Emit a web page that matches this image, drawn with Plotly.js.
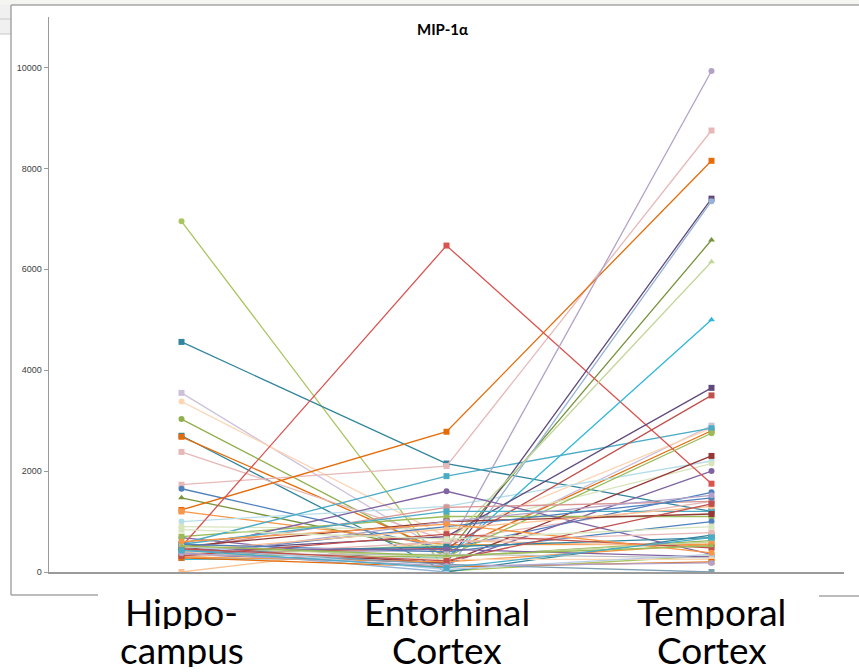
<!DOCTYPE html>
<html>
<head>
<meta charset="utf-8">
<script src="https://cdn.plot.ly/plotly-3.0.1.min.js"></script>
<style>html,body{margin:0;padding:0;background:#fff;}#chart{width:859px;height:672px;}</style>
</head>
<body>
<div id="chart"></div>
<script>
// ---- data ----
const categories = ["Hippocampus", "Entorhinal Cortex", "Temporal Cortex"];
const categoryLabelLines = [["Hippo-", "campus"], ["Entorhinal", "Cortex"], ["Temporal", "Cortex"]];
const chartTitle = "MIP-1α";
const yTickValues = [0, 2000, 4000, 6000, 8000, 10000];

// one value per sample (series), per region
const hippocampus = [6950, 4560, 3550, 3380, 3030, 2700, 2680, 2380, 1730, 1650,
                     1470, 1230, 1200, 1000, 900, 680, 700, 560, 500, 0,
                     400, 350, 450, 300, 250, 420, 380, 350, 480, 420,
                     450, 550, 500, 350, 300, 420, 550, 300, 380, 500,
                     300, 450, 350, 400, 280, 450, 520, 320, 600, 460,
                     520, 370, 430, 840];
const entorhinal  = [20, 2150, 360, 700, 300, 0, 380, 630, 2100, 460,
                     370, 2780, 540, 1300, 850, 150, 1100, 1900, 6470, 620,
                     420, 180, 0, 540, 280, 700, 470, 300, 180, 1600,
                     1280, 1200, 1000, 900, 1000, 850, 400, 600, 500, 300,
                     200, 450, 350, 250, 100, 150, 50, 750, 950, 220,
                     320, 120, 80, 650];
const temporal    = [320, 1200, 2900, 2850, 620, 730, 2800, 1400, 8750, 1580,
                     6580, 8150, 550, 2200, 2150, 2000, 1100, 2850, 1750, 500,
                     9930, 7400, 7350, 6150, 5000, 3650, 3500, 2750, 2300, 350,
                     1400, 1200, 1150, 1470, 1520, 1300, 1000, 780, 680, 600,
                     550, 300, 280, 250, 200, 0, 350, 480, 380, 1350,
                     520, 180, 680, 900];

// ---- styles ----
const seriesColors = ["#A9C55F", "#31859C", "#CCC1DA", "#FCD5B5", "#8FB04D", "#31859C", "#E46C0A", "#E6B9B8", "#E6B9B8", "#4F81BD",
                      "#77933C", "#E46C0A", "#F79646", "#B7DEE8", "#D7E4BD", "#8064A2", "#9BBB59", "#4BACC6", "#D9534F", "#FAC090",
                      "#B3A2C7", "#604A7B", "#95B3D7", "#C3D69B", "#31B6D8", "#604A7B", "#C0504D", "#9BBB59", "#953735", "#8064A2",
                      "#D99694", "#4BACC6", "#953735", "#4F81BD", "#B3A2C7", "#FAC090", "#4F81BD", "#E6B9B8", "#31859C", "#C3D69B",
                      "#F79646", "#8064A2", "#BFBFBF", "#FCD5B5", "#E46C0A", "#7F9FB5", "#B9CDE5", "#C0504D", "#F79646", "#C0504D",
                      "#9BBB59", "#B3A2C7", "#4BACC6", "#D7E4BD"];
const seriesSymbols = ["circle", "square", "square", "circle", "circle", "square", "square", "square", "square", "circle",
                       "triangle-up", "square", "square", "circle", "circle", "circle", "square", "square", "square", "square",
                       "circle", "square", "circle", "triangle-up", "triangle-up", "square", "square", "circle", "square", "circle",
                       "square", "square", "square", "circle", "circle", "circle", "circle", "square", "square", "circle",
                       "square", "circle", "square", "circle", "square", "square", "circle", "square", "circle", "square",
                       "triangle-up", "circle", "square", "square"];

// ---- geometry helpers (pixel -> paper) ----
const L = 49, R = 844, T = 17, B = 572;
const px = v => (v - L) / (R - L);
const py = v => (B - v) / (B - T);

const traces = hippocampus.map((h, i) => ({
  type: "scatter",
  mode: "lines+markers",
  x: categories,
  y: [h, entorhinal[i], temporal[i]],
  line: {color: seriesColors[i], width: 1.3},
  marker: {color: seriesColors[i], symbol: seriesSymbols[i], size: 6, line: {width: 0}},
  showlegend: false,
  hoverinfo: "skip"
}));

const annotations = [];
annotations.push({
  text: "<b>" + chartTitle + "</b>", xref: "paper", yref: "paper",
  x: px(442), y: py(29), xanchor: "center", yanchor: "middle", showarrow: false,
  font: {family: "Lato, 'Liberation Sans', sans-serif", size: 15, color: "#000"}
});
categoryLabelLines.forEach((lines, i) => {
  lines.forEach((t, j) => {
    annotations.push({
      text: t, xref: "x", yref: "paper", x: categories[i], y: py(j === 0 ? 611 : 649),
      xanchor: "center", yanchor: "middle", showarrow: false, height: 36,
      font: {family: "Lato, 'Open Sans', sans-serif", size: 37, color: "#000"}
    });
  });
});

const borderColor = "#A6A6A6";
const shapes = [
  // top light strip
  {type: "rect", xref: "paper", yref: "paper", x0: px(0), x1: px(859), y0: py(0), y1: py(5), fillcolor: "#F4F4F0", line: {width: 0}, layer: "below"},
  // left header strip
  {type: "rect", xref: "paper", yref: "paper", x0: px(0), x1: px(11), y0: py(5), y1: py(34), fillcolor: "#F0F0F0", line: {width: 0}, layer: "below"},
  {type: "line", xref: "paper", yref: "paper", x0: px(0), x1: px(11), y0: py(19), y1: py(19), line: {color: "#C8C8C8", width: 1}},
  {type: "line", xref: "paper", yref: "paper", x0: px(0), x1: px(11), y0: py(34), y1: py(34), line: {color: "#C8C8C8", width: 1}},
  // chart area border
  {type: "line", xref: "paper", yref: "paper", x0: px(11), x1: px(859), y0: py(5), y1: py(5), line: {color: borderColor, width: 1.5}},
  {type: "line", xref: "paper", yref: "paper", x0: px(11), x1: px(11), y0: py(5), y1: py(595), line: {color: borderColor, width: 1.5}},
  {type: "line", xref: "paper", yref: "paper", x0: px(11), x1: px(98), y0: py(595), y1: py(595), line: {color: borderColor, width: 1.5}},
  {type: "line", xref: "paper", yref: "paper", x0: px(819), x1: px(859), y0: py(596), y1: py(596), line: {color: borderColor, width: 1.5}}
];

const layout = {
  width: 859, height: 672,
  margin: {l: L, r: 859 - R, t: T, b: 672 - B, pad: 0},
  paper_bgcolor: "#FFFFFF", plot_bgcolor: "#FFFFFF",
  showlegend: false,
  xaxis: {
    type: "category", range: [-0.5, 2.5], showgrid: false, zeroline: false,
    showline: true, linecolor: "#9A9A9A", linewidth: 1.5,
    showticklabels: false, ticks: ""
  },
  yaxis: {
    range: [0, 11000], showgrid: false, zeroline: false,
    showline: true, linecolor: "#9A9A9A", linewidth: 1.5,
    ticks: "outside", ticklen: 4, tickcolor: "#9A9A9A",
    tickvals: yTickValues, ticktext: yTickValues.map(String),
    tickfont: {family: "'Liberation Sans', Arial, sans-serif", size: 9, color: "#404040"}
  },
  annotations: annotations,
  shapes: shapes
};

Plotly.newPlot("chart", traces, layout, {displayModeBar: false, staticPlot: true});
</script>
</body>
</html>
